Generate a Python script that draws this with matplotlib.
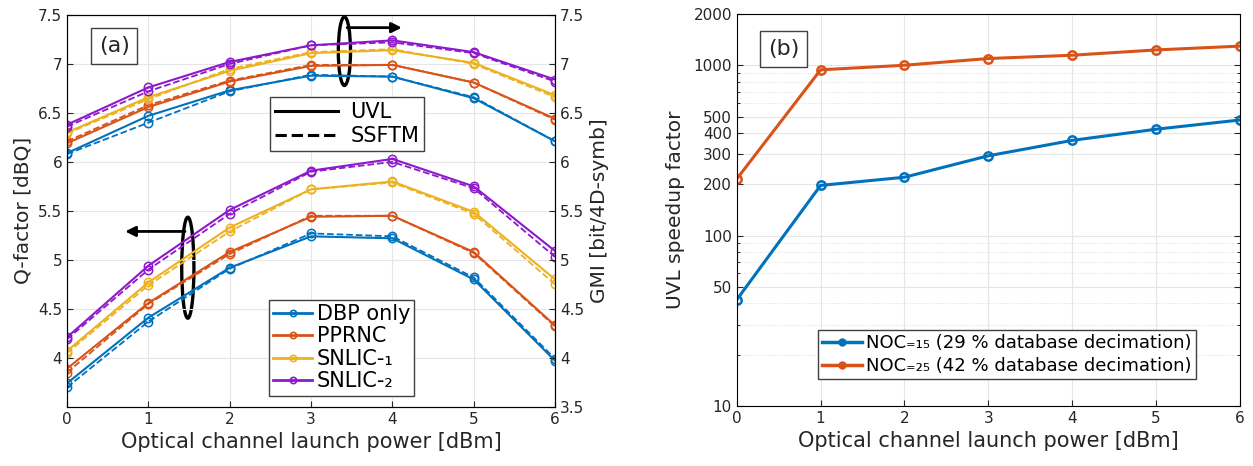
import numpy as np
import matplotlib
matplotlib.use("Agg")
import matplotlib.pyplot as plt
from matplotlib.patches import Ellipse
from matplotlib.lines import Line2D
from matplotlib.ticker import FixedLocator, NullFormatter

plt.rcParams['font.family'] = ['DejaVu Sans']

# launch power [dBm]
power = [0, 1, 2, 3, 4, 5, 6]

schemes = ["DBP only", "PPRNC", "SNLIC-\u2081", "SNLIC-\u2082"]
colors = ["#0072BD", "#D95319", "#EDB120", "#8E18CC"]

# GMI [bit/4D-symb] (upper curves)
gmi_uvl = [
    [6.09, 6.47, 6.73, 6.88, 6.87, 6.65, 6.21],
    [6.19, 6.56, 6.82, 6.98, 6.99, 6.81, 6.44],
    [6.30, 6.66, 6.93, 7.11, 7.14, 7.01, 6.68],
    [6.38, 6.76, 7.02, 7.19, 7.24, 7.12, 6.84],
]
gmi_ssftm = [
    [6.08, 6.40, 6.72, 6.89, 6.87, 6.66, 6.21],
    [6.21, 6.58, 6.83, 6.99, 6.99, 6.81, 6.43],
    [6.29, 6.64, 6.95, 7.12, 7.15, 7.00, 6.66],
    [6.36, 6.72, 7.00, 7.19, 7.22, 7.11, 6.82],
]
# Q-factor [dBQ] (lower curves)
q_uvl = [
    [3.74, 4.41, 4.92, 5.24, 5.22, 4.80, 3.97],
    [3.89, 4.56, 5.08, 5.44, 5.45, 5.08, 4.33],
    [4.07, 4.77, 5.33, 5.72, 5.80, 5.49, 4.80],
    [4.21, 4.94, 5.51, 5.91, 6.03, 5.75, 5.09],
]
q_ssftm = [
    [3.70, 4.37, 4.91, 5.27, 5.24, 4.82, 3.99],
    [3.85, 4.55, 5.06, 5.45, 5.45, 5.07, 4.32],
    [4.05, 4.74, 5.29, 5.72, 5.79, 5.47, 4.75],
    [4.19, 4.90, 5.47, 5.90, 6.00, 5.73, 5.03],
]

# speedup factor, panel (b)
speedup_noc15 = [42, 197, 220, 294, 362, 421, 477]
speedup_noc25 = [215, 940, 1000, 1095, 1145, 1230, 1295]
noc_labels = ["NOC\u208c\u2081\u2085 (29 % database decimation)",
              "NOC\u208c\u2082\u2085 (42 % database decimation)"]
noc_colors = ["#0072BD", "#D95319"]

fig = plt.figure(figsize=(12.53, 4.66), dpi=100)
txt = '#262626'

# ---------------- panel (a) ----------------
ax = fig.add_axes([0.0535, 0.127, 0.3895, 0.841])
for i in range(4):
    c = colors[i]
    for ys in (gmi_ssftm[i], q_ssftm[i]):
        ax.plot(power, ys, '--', color=c, lw=1.3, marker='o', ms=6,
                mfc='none', mew=1.1)
    for ys in (gmi_uvl[i], q_uvl[i]):
        ax.plot(power, ys, '-', color=c, lw=1.5, marker='o', ms=6,
                mfc='none', mew=1.1)

ax.set_xlim(0, 6)
ax.set_ylim(3.5, 7.5)
ax.set_xticks(power)
ax.set_yticks([4, 4.5, 5, 5.5, 6, 6.5, 7, 7.5])
ax.set_yticklabels(["4", "4.5", "5", "5.5", "6", "6.5", "7", "7.5"])
ax.grid(True, color='#e6e6e6', lw=0.8)
ax.tick_params(direction='in', labelsize=11, length=4, colors=txt)
ax.set_xlabel("Optical channel launch power [dBm]", fontsize=15, color=txt)
ax.set_ylabel("Q-factor [dBQ]", fontsize=14.5, color=txt, labelpad=4)

ax2 = ax.twinx()
ax2.set_ylim(3.5, 7.5)
ax2.set_yticks([3.5, 4, 4.5, 5, 5.5, 6, 6.5, 7, 7.5])
ax2.set_yticklabels(["3.5", "4", "4.5", "5", "5.5", "6", "6.5", "7", "7.5"])
ax2.tick_params(direction='in', labelsize=11, length=4, colors=txt)
ax2.set_ylabel("GMI [bit/4D-symb]", fontsize=14.5, color=txt, labelpad=4)

# ellipses and arrows
ax.add_patch(Ellipse((3.41, 7.13), 0.15, 0.70, fill=False, lw=2.4, color='k'))
ax.annotate("", xy=(4.15, 7.37), xytext=(3.41, 7.37),
            arrowprops=dict(arrowstyle='-|>', lw=2, color='k', mutation_scale=15))
ax.add_patch(Ellipse((1.485, 4.92), 0.15, 1.03, fill=False, lw=2.4, color='k'))
ax.annotate("", xy=(0.68, 5.29), xytext=(1.485, 5.29),
            arrowprops=dict(arrowstyle='-|>', lw=2, color='k', mutation_scale=15))

ax.text(0.58, 7.18, "(a)", fontsize=16, ha='center', va='center', color=txt,
        bbox=dict(boxstyle='square,pad=0.35', fc='white', ec='#404040', lw=1))

style_handles = [Line2D([], [], color='k', lw=2.2, ls='-'),
                 Line2D([], [], color='k', lw=2.2, ls='--')]
leg1 = ax.legend(style_handles, ["UVL", "SSFTM"], loc='upper left',
                 bbox_to_anchor=(0.416, 0.791), borderaxespad=0, fontsize=15,
                 fancybox=False, edgecolor='#404040', framealpha=1,
                 handlelength=3.0, borderpad=0.25, labelspacing=0.2,
                 handletextpad=0.6)
leg1.get_frame().set_linewidth(1)
ax.add_artist(leg1)

series_handles = [Line2D([], [], color=colors[i], lw=2, marker='o', ms=4.5,
                         mfc='none', mew=1.2) for i in range(4)]
leg2 = ax.legend(series_handles, schemes, loc='upper left',
                 bbox_to_anchor=(0.413, 0.273), borderaxespad=0, fontsize=15,
                 fancybox=False, edgecolor='#404040', framealpha=1,
                 handlelength=1.9, borderpad=0.2, labelspacing=0.12,
                 handletextpad=0.2)
leg2.get_frame().set_linewidth(1)

# ---------------- panel (b) ----------------
bx = fig.add_axes([0.588, 0.129, 0.4014, 0.841])
bx.plot(power, speedup_noc15, '-', color=noc_colors[0], lw=2.2, marker='o',
        ms=6, mfc='none', mew=1.8, label=noc_labels[0])
bx.plot(power, speedup_noc25, '-', color=noc_colors[1], lw=2.2, marker='o',
        ms=6, mfc='none', mew=1.8, label=noc_labels[1])
bx.set_yscale('log')
bx.set_xlim(0, 6)
bx.set_ylim(10, 2000)
bx.set_xticks(power)
bx.yaxis.set_major_locator(FixedLocator([10, 50, 100, 200, 300, 400, 500, 1000, 2000]))
bx.set_yticklabels(["10", "50", "100", "200", "300", "400", "500", "1000", "2000"])
bx.yaxis.set_minor_locator(FixedLocator([20, 30, 40, 60, 70, 80, 90, 600, 700, 800, 900]))
bx.yaxis.set_minor_formatter(NullFormatter())
bx.grid(True, which='major', color='#e6e6e6', lw=0.8)
bx.grid(True, which='minor', axis='y', color='#d8d8d8', lw=0.6, ls=':')
bx.tick_params(direction='in', labelsize=11, length=4, right=True, top=False,
               colors=txt)
bx.tick_params(which='minor', direction='in', length=2, right=True)
bx.set_xlabel("Optical channel launch power [dBm]", fontsize=15, color=txt)
bx.set_ylabel("UVL speedup factor", fontsize=14.5, color=txt, labelpad=6)

bx.text(0.56, 1245, "(b)", fontsize=16, ha='center', va='center', color=txt,
        bbox=dict(boxstyle='square,pad=0.35', fc='white', ec='#404040', lw=1))

noc_handles = [Line2D([], [], color=noc_colors[i], lw=2.5, marker='o', ms=5)
               for i in range(2)]
leg3 = bx.legend(noc_handles, noc_labels, loc='upper left',
                 bbox_to_anchor=(0.161, 0.194), borderaxespad=0, fontsize=13,
                 fancybox=False, edgecolor='#404040', framealpha=1,
                 handlelength=2.2, borderpad=0.25, labelspacing=0.25,
                 handletextpad=0.2)
leg3.get_frame().set_linewidth(1)

fig.savefig("out.png", dpi=100)
